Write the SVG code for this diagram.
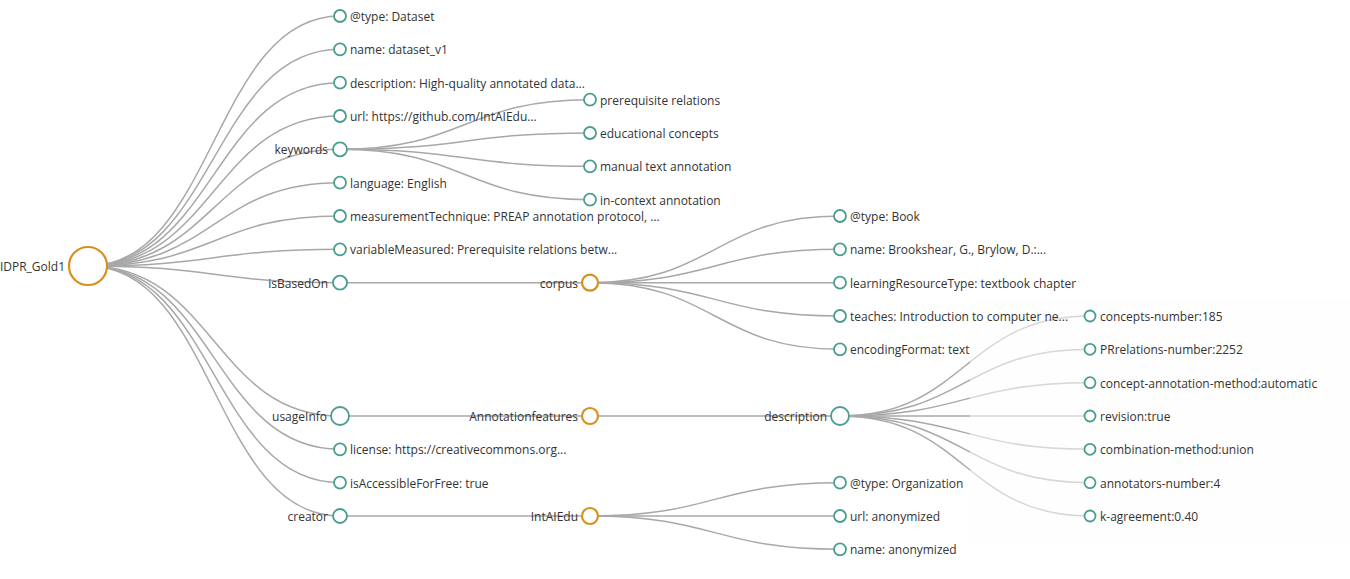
<svg xmlns="http://www.w3.org/2000/svg" width="1350" height="579" viewBox="0 0 1350 579">
<style>
.link{fill:none;stroke:#a8a8a8;stroke-width:1.5}
.n{fill:#fff;stroke:#4a9d8f;stroke-width:1.8}
.o{fill:#fff;stroke:#d8901c;stroke-width:2.2}
text{font-family:"Open Sans","Noto Sans","Liberation Sans",sans-serif;font-size:12px;fill:#333}
.l{text-anchor:start}
.r{text-anchor:end}
</style>
<rect width="1350" height="579" fill="#fff"/>
<g id="links">
<path class="link" d="M88,266C214,266 214,16 340,16"/>
<path class="link" d="M88,266C214,266 214,49.3 340,49.3"/>
<path class="link" d="M88,266C214,266 214,82.7 340,82.7"/>
<path class="link" d="M88,266C214,266 214,116 340,116"/>
<path class="link" d="M88,266C214,266 214,149.3 340,149.3"/>
<path class="link" d="M88,266C214,266 214,182.7 340,182.7"/>
<path class="link" d="M88,266C214,266 214,216 340,216"/>
<path class="link" d="M88,266C214,266 214,249.3 340,249.3"/>
<path class="link" d="M88,266C214,266 214,282.7 340,282.7"/>
<path class="link" d="M88,266C214,266 214,416 340,416"/>
<path class="link" d="M88,266C214,266 214,449.3 340,449.3"/>
<path class="link" d="M88,266C214,266 214,482.7 340,482.7"/>
<path class="link" d="M88,266C214,266 214,516 340,516"/>
<path class="link" d="M340,149.3C465,149.3 465,99.7 590,99.7"/>
<path class="link" d="M340,149.3C465,149.3 465,133 590,133"/>
<path class="link" d="M340,149.3C465,149.3 465,166.3 590,166.3"/>
<path class="link" d="M340,149.3C465,149.3 465,199.7 590,199.7"/>
<path class="link" d="M340,282.7L590,282.7"/>
<path class="link" d="M590,282.7C715,282.7 715,216 840,216"/>
<path class="link" d="M590,282.7C715,282.7 715,249.3 840,249.3"/>
<path class="link" d="M590,282.7L840,282.7"/>
<path class="link" d="M590,282.7C715,282.7 715,316 840,316"/>
<path class="link" d="M590,282.7C715,282.7 715,349.3 840,349.3"/>
<path class="link" d="M340,416L590,416"/>
<path class="link" d="M590,416L840,416"/>
<path class="link" d="M840,416C965,416 965,316 1090,316"/>
<path class="link" d="M840,416C965,416 965,349.3 1090,349.3"/>
<path class="link" d="M840,416C965,416 965,382.7 1090,382.7"/>
<path class="link" d="M840,416L1090,416"/>
<path class="link" d="M840,416C965,416 965,449.3 1090,449.3"/>
<path class="link" d="M840,416C965,416 965,482.7 1090,482.7"/>
<path class="link" d="M840,416C965,416 965,516 1090,516"/>
<path class="link" d="M340,516L590,516"/>
<path class="link" d="M590,516C715,516 715,482.7 840,482.7"/>
<path class="link" d="M590,516L840,516"/>
<path class="link" d="M590,516C715,516 715,549.3 840,549.3"/>
</g>
<rect x="970" y="300" width="380" height="245" fill="#fefefe" opacity="0.55"/>
<g id="root"><circle class="o" cx="88" cy="266" r="19" stroke-width="2.5"/><text class="r" x="65" y="271">IDPR_Gold1</text></g>
<g id="type"><circle class="n" cx="340" cy="16" r="6"/><text class="l" x="350" y="21">@type: Dataset</text></g>
<g id="name"><circle class="n" cx="340" cy="49.3" r="6"/><text class="l" x="350" y="54.3">name: dataset_v1</text></g>
<g id="description1"><circle class="n" cx="340" cy="82.7" r="6"/><text class="l" x="350" y="87.7">description: High-quality annotated data...</text></g>
<g id="url"><circle class="n" cx="340" cy="116" r="6"/><text class="l" x="350" y="121">url: https://github.com/IntAIEdu...</text></g>
<g id="keywords"><circle class="n" cx="340" cy="149.3" r="7"/><text class="r" x="328" y="154.3">keywords</text></g>
<g id="language"><circle class="n" cx="340" cy="182.7" r="6"/><text class="l" x="350" y="187.7">language: English</text></g>
<g id="measurementTechnique"><circle class="n" cx="340" cy="216" r="6"/><text class="l" x="350" y="221">measurementTechnique: PREAP annotation protocol, ...</text></g>
<g id="variableMeasured"><circle class="n" cx="340" cy="249.3" r="6"/><text class="l" x="350" y="254.3">variableMeasured: Prerequisite relations betw...</text></g>
<g id="isBasedOn"><circle class="n" cx="340" cy="282.7" r="7"/><text class="r" x="328" y="287.7">isBasedOn</text></g>
<g id="usageInfo"><circle class="n" cx="340" cy="416" r="9"/><text class="r" x="327" y="421">usageInfo</text></g>
<g id="license"><circle class="n" cx="340" cy="449.3" r="6"/><text class="l" x="350" y="454.3">license: https://creativecommons.org...</text></g>
<g id="isAccessibleForFree"><circle class="n" cx="340" cy="482.7" r="6"/><text class="l" x="350" y="487.7">isAccessibleForFree: true</text></g>
<g id="creator"><circle class="n" cx="340" cy="516" r="7"/><text class="r" x="328" y="521">creator</text></g>
<g id="kw1"><circle class="n" cx="590" cy="99.7" r="6"/><text class="l" x="600" y="104.7">prerequisite relations</text></g>
<g id="kw2"><circle class="n" cx="590" cy="133" r="6"/><text class="l" x="600" y="138">educational concepts</text></g>
<g id="kw3"><circle class="n" cx="590" cy="166.3" r="6"/><text class="l" x="600" y="171.3">manual text annotation</text></g>
<g id="kw4"><circle class="n" cx="590" cy="199.7" r="6"/><text class="l" x="600" y="204.7">in-context annotation</text></g>
<g id="corpus"><circle class="o" cx="590" cy="282.7" r="8"/><text class="r" x="578" y="287.7">corpus</text></g>
<g id="c1"><circle class="n" cx="840" cy="216" r="6"/><text class="l" x="850" y="221">@type: Book</text></g>
<g id="c2"><circle class="n" cx="840" cy="249.3" r="6"/><text class="l" x="850" y="254.3">name: Brookshear, G., Brylow, D.:...</text></g>
<g id="c3"><circle class="n" cx="840" cy="282.7" r="6"/><text class="l" x="850" y="287.7">learningResourceType: textbook chapter</text></g>
<g id="c4"><circle class="n" cx="840" cy="316" r="6"/><text class="l" x="850" y="321">teaches: Introduction to computer ne...</text></g>
<g id="c5"><circle class="n" cx="840" cy="349.3" r="6"/><text class="l" x="850" y="354.3">encodingFormat: text</text></g>
<g id="Annotationfeatures"><circle class="o" cx="590" cy="416" r="8"/><text class="r" x="578" y="421">Annotationfeatures</text></g>
<g id="description2"><circle class="n" cx="840" cy="416" r="9"/><text class="r" x="827" y="421">description</text></g>
<g id="d1"><circle class="n" cx="1090" cy="316" r="5.5" stroke="#6aa59b"/><text class="l" x="1100" y="321">concepts-number:185</text></g>
<g id="d2"><circle class="n" cx="1090" cy="349.3" r="5.5" stroke="#6aa59b"/><text class="l" x="1100" y="354.3">PRrelations-number:2252</text></g>
<g id="d3"><circle class="n" cx="1090" cy="382.7" r="5.5" stroke="#6aa59b"/><text class="l" x="1100" y="387.7">concept-annotation-method:automatic</text></g>
<g id="d4"><circle class="n" cx="1090" cy="416" r="5.5" stroke="#6aa59b"/><text class="l" x="1100" y="421">revision:true</text></g>
<g id="d5"><circle class="n" cx="1090" cy="449.3" r="5.5" stroke="#6aa59b"/><text class="l" x="1100" y="454.3">combination-method:union</text></g>
<g id="d6"><circle class="n" cx="1090" cy="482.7" r="5.5" stroke="#6aa59b"/><text class="l" x="1100" y="487.7">annotators-number:4</text></g>
<g id="d7"><circle class="n" cx="1090" cy="516" r="5.5" stroke="#6aa59b"/><text class="l" x="1100" y="521">k-agreement:0.40</text></g>
<g id="IntAIEdu"><circle class="o" cx="590" cy="516" r="8"/><text class="r" x="578" y="521">IntAIEdu</text></g>
<g id="i1"><circle class="n" cx="840" cy="482.7" r="6"/><text class="l" x="850" y="487.7">@type: Organization</text></g>
<g id="i2"><circle class="n" cx="840" cy="516" r="6"/><text class="l" x="850" y="521">url: anonymized</text></g>
<g id="i3"><circle class="n" cx="840" cy="549.3" r="6"/><text class="l" x="850" y="554.3">name: anonymized</text></g>
</svg>
